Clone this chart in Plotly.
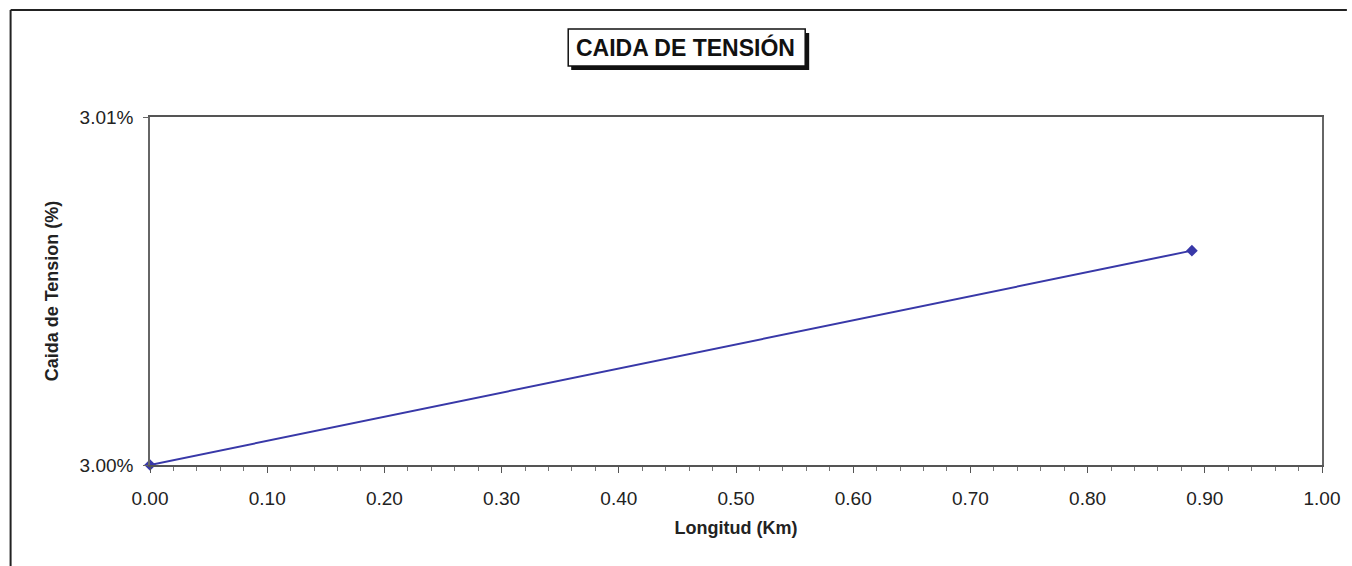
import plotly.graph_objects as go

# Data
longitud_km = [0.00, 0.889]
caida_pct = [3.0000, 3.00616]

title_text = "CAIDA DE TENSIÓN"
x_title = "Longitud (Km)"
y_title = "Caida de Tension (%)"

W, H = 1352, 566
ml, mr, mt, mb = 150, 25, 117, 101
pw, ph = W - ml - mr, H - mt - mb

def px_x(p):
    return (p - ml) / pw

def px_y(p):
    return 1 - (p - mt) / ph

font_family = "Liberation Sans, Arial, sans-serif"
line_col = "#3838A8"

fig = go.Figure()
fig.add_trace(go.Scatter(
    x=longitud_km, y=caida_pct, mode="lines+markers",
    line=dict(color=line_col, width=2),
    marker=dict(symbol="diamond", size=9, color=line_col),
    showlegend=False, hoverinfo="x+y", cliponaxis=False,
))

shapes = [
    # outer chart frame (left & top)
    dict(type="line", xref="paper", yref="paper", x0=px_x(10), x1=px_x(10), y0=px_y(10), y1=px_y(566), line=dict(color="#222", width=2)),
    dict(type="line", xref="paper", yref="paper", x0=px_x(10), x1=px_x(1352), y0=px_y(10), y1=px_y(10), line=dict(color="#222", width=2)),
    # title box shadow + box
    dict(type="rect", xref="paper", yref="paper", x0=px_x(573), x1=px_x(812), y0=px_y(33), y1=px_y(70), fillcolor="#111", line=dict(width=0), layer="below"),
    dict(type="rect", xref="paper", yref="paper", x0=px_x(570), x1=px_x(808), y0=px_y(29), y1=px_y(66), fillcolor="white", line=dict(color="#111", width=1.5), layer="below"),
]

fig.add_annotation(
    text="<b>" + title_text + "</b>", xref="paper", yref="paper",
    x=px_x(688), y=px_y(47), xanchor="center", yanchor="middle",
    showarrow=False, font=dict(family=font_family, size=23, color="#111"),
)

fig.update_layout(
    width=W, height=H,
    margin=dict(l=ml, r=mr, t=mt, b=mb),
    paper_bgcolor="white", plot_bgcolor="white",
    font=dict(family=font_family, color="#222"),
    shapes=shapes,
    xaxis=dict(
        range=[0, 1], dtick=0.1, tickformat=".2f",
        showgrid=False, zeroline=False,
        showline=True, linecolor="#555", linewidth=1.5, mirror=True,
        ticks="outside", ticklen=6, tickcolor="#555",
        minor=dict(dtick=0.02, ticks="outside", ticklen=4, tickcolor="#777"),
        tickfont=dict(size=19, color="#222"),
        ticklabelstandoff=9,
        title=dict(text="<b>" + x_title + "</b>", font=dict(size=18, color="#222"), standoff=14),
    ),
    yaxis=dict(
        range=[3.00, 3.01], dtick=0.01, tickformat=".2f", ticksuffix="%",
        showgrid=False, zeroline=False,
        showline=True, linecolor="#666", linewidth=1.5, mirror=True,
        ticks="outside", ticklen=5, tickcolor="#666",
        tickfont=dict(size=19, color="#222"),
        ticklabelstandoff=6,
        title=dict(text="<b>" + y_title + "</b>", font=dict(size=18, color="#222"), standoff=16),
    ),
)

fig.write_html("out.html")
